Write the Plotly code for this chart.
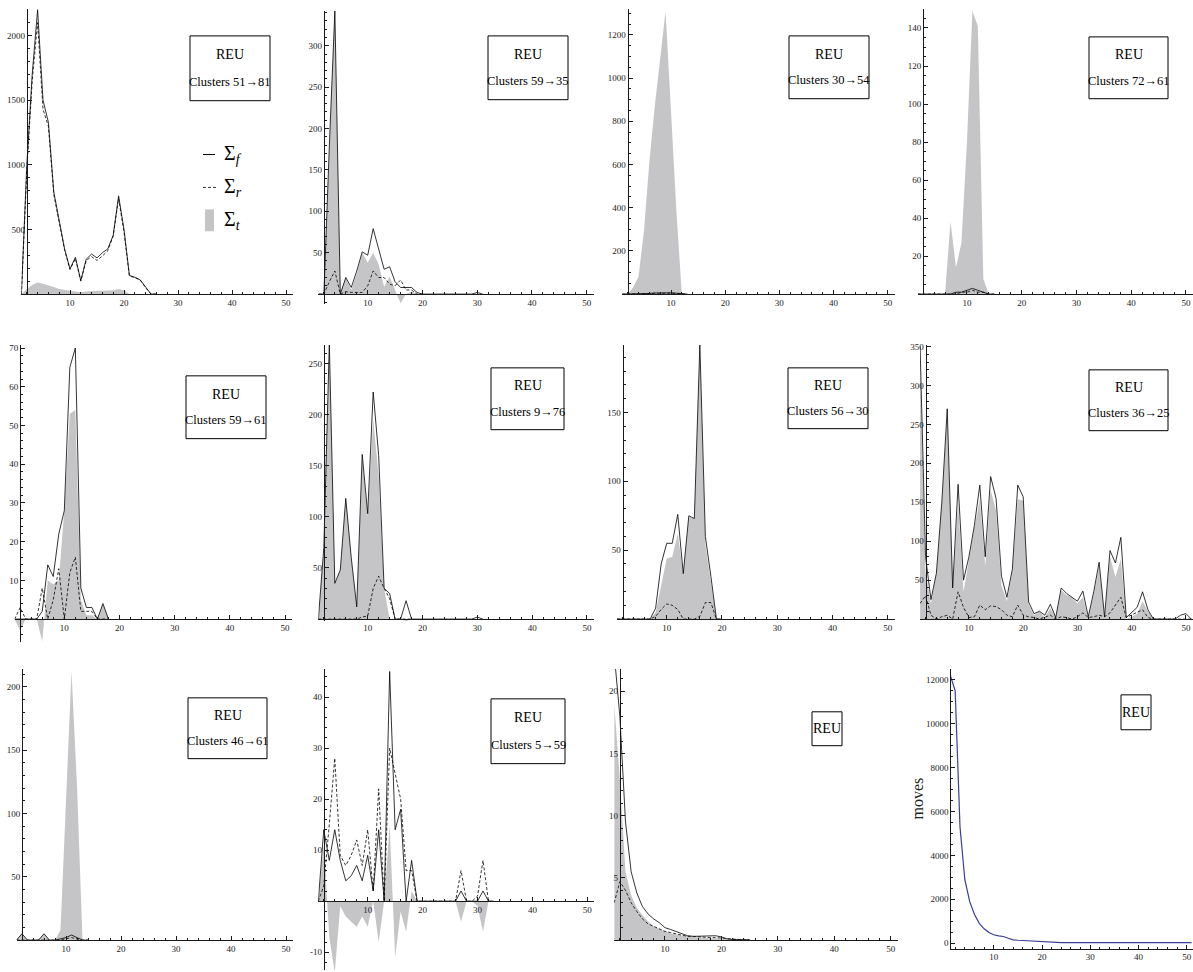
import plotly.graph_objects as go

W, H = 1193, 972

# ---------------- data (x = 1, 2, 3, ...) ----------------
# Panel 1: Clusters 51->81
p1_f = [0, 1000, 1700, 2200, 1500, 1330, 790, 555, 350, 195, 285, 105, 270, 310, 280, 320, 350, 455, 760, 500, 145, 130, 110, 55, 0, 0]
p1_r = [0, 950, 1650, 2100, 1430, 1300, 770, 540, 340, 190, 275, 100, 260, 290, 260, 295, 335, 450, 740, 480, 140, 128, 108, 50, 0, 0]
p1_t = [0, 40, 70, 90, 80, 70, 55, 40, 30, 25, 20, 15, 20, 25, 25, 25, 25, 30, 40, 30, 0, 0, 0, 0, 0, 0]
# Panel 2: Clusters 59->35
p2_f = [0, 0, 180, 342, 0, 20, 8, 28, 51, 47, 79, 55, 30, 33, 15, 8, 8, 8, 2, 0, 0, 0, 0, 0, 0, 0, 0, 0, 0, 2, 0]
p2_r = [0, 0, 15, 28, 0, 3, 2, 2, 2, 10, 28, 20, 20, 12, 10, 17, 5, 5, 0, 0]
p2_t = [0, 0, 180, 342, 0, 20, 5, 25, 50, 38, 50, 36, 9, 21, 5, -11, 0, 3, 0, 0]
# Panel 3: Clusters 30->54
p3_f = [0, 0, 0, 1, 2, 3, 5, 6, 8, 6, 4, 1, 0]
p3_r = [0, 0, 0, 1, 1, 2, 4, 5, 6, 4, 3, 1, 0]
p3_t = [0, 0, 30, 80, 290, 610, 870, 1090, 1310, 846, 382, 0, 0]
# Panel 4: Clusters 72->61
p4_f = [0, 0, 0, 0, 0, 0, 0, 1, 1, 2, 3, 2, 1, 0, 0]
p4_r = [0, 0, 0, 0, 0, 0, 0, 0, 1, 1, 2, 1, 1, 0, 0]
p4_t = [0, 0, 0, 0, 0, 0, 38, 14, 27, 80, 149, 141, 8, 0, 0]
# Panel 5: Clusters 59->61
p5_f = [0, 0, 0, 0, 0, 2, 14, 11, 22, 28, 65, 70, 8, 3, 3, 0, 4, 0]
p5_r = [0, 3, 0, 0, 0, 8, 0, 5, 13, 0, 12, 16, 2, 2, 2, 0, 0, 0]
p5_t = [0, -3, 0, 0, 0, -5.8, 10, 9, 10, 28, 53, 54, 5, 1, 1, 0, 4, 0]
# Panel 6: Clusters 9->76
p6_f = [0, 70, 270, 35, 48, 118, 60, 12, 161, 103, 222, 160, 30, 25, 0, 0, 18, 0, 0, 0, 0, 0, 0, 0, 0, 0, 0, 0, 0, 2, 0]
p6_r = [0, 0, 0, 0, 0, 0, 0, 0, 2, 3, 30, 42, 30, 20, 0, 0, 0, 0]
p6_t = [0, 70, 270, 35, 48, 118, 60, 12, 158, 100, 195, 140, 30, 0, 0, 0, -2, 0]
# Panel 7: Clusters 56->30
p7_f = [0, 0, 0, 0, 0, 0, 0, 8, 40, 55, 55, 76, 33, 75, 73, 199, 60, 31, 0, 0]
p7_r = [0, 0, 0, 0, 0, 0, 0, 2, 7, 11, 10, 7, 0, 0, 0, 2, 12, 12, 0, 0]
p7_t = [0, 0, 0, 0, 0, 0, 0, 5, 25, 44, 45, 62, 33, 74, 73, 198, 54, 25, 0, 0]
# Panel 8: Clusters 36->25
p8_f = [350, 80, 25, 59, 150, 270, 40, 173, 50, 80, 120, 172, 80, 183, 155, 55, 28, 64, 172, 157,
        22, 7, 10, 5, 19, 2, 40, 33, 28, 23, 36, 3, 35, 73, 3, 88, 72, 105, 2, 8,
        15, 35, 12, 0, 0, 0, 0, 0, 5, 7, 0]
p8_r = [20, 30, 5, 0, 3, 5, 0, 35, 15, 2, 3, 18, 12, 17, 16, 12, 5, 3, 18, 5,
        3, 2, 0, 3, 5, 0, 3, 2, 0, 3, 8, 2, 3, 5, 3, 8, 18, 28, 2, 5,
        8, 12, 2, 0, 0, 0, 0, 0, 0, 0, 0]
p8_t = [330, 60, 20, 59, 147, 265, 40, 150, 35, 78, 117, 154, 68, 166, 139, 43, 23, 61, 154, 152,
        19, 5, 10, 2, 14, 2, 37, 31, 28, 20, 28, 1, 32, 68, 0, 80, 54, 77, 0, 3,
        7, 23, 10, 0, 0, 0, 0, 0, 0, 0, 0]
# Panel 9: Clusters 46->61
p9_f = [0, 5, 0, 0, 0, 5, 0, 0, 1, 2, 4, 2, 0, 0]
p9_r = [0, 0, 0, 0, 0, 0, 0, 0, 0, 1, 2, 1, 0, 0]
p9_t = [0, 5, 0, 0, 0, 5, 0, 0, 8, 110, 212, 122, 0, 0]
# Panel 10: Clusters 5->59
p10_f = [0, 14, 8, 14, 8, 4, 5, 7, 4, 9, 2, 14, 0, 45, 14, 18, 0, 8, 0, 0, 0, 0, 0, 0, 0, 0, 2, 0, 0, 0, 2, 0, 0]
p10_r = [0, 3, 15, 28, 9, 7, 9, 12, 7, 14, 2, 22, 0, 30, 25, 20, 6, 6, 0, 0, 0, 0, 0, 0, 0, 0, 6, 0, 0, 1, 8, 0, 0]
p10_t = [0, 11, -7, -14, -1, -3, -4, -5, -3, -5, 0, -8, 0, 15, -11, -2, -6, 2, 0, 0, 0, 0, 0, 0, 0, 0, -4, 0, 0, -1, -6, 0, 0]
# Panel 11: REU (all)
p11_f = [23, 18, 9.5, 5.5, 3.8, 2.7, 2.1, 1.7, 1.4, 1.0, 0.85, 0.7, 0.5, 0.35, 0.3, 0.3, 0.3, 0.3, 0.35, 0.25, 0.1, 0.05, 0.05, 0.03, 0.03]
p11_r = [3, 4.7, 4.0, 3.0, 2.3, 1.7, 1.3, 1.1, 0.9, 0.7, 0.6, 0.5, 0.4, 0.3, 0.3, 0.25, 0.2, 0.2, 0.2, 0.15, 0.1, 0.05, 0.05, 0.02, 0.02]
p11_t = [19, 13, 5.5, 3.6, 2.6, 2.0, 1.5, 1.1, 0.9, 0.7, 0.55, 0.45, 0.35, 0.3, 0.25, 0.2, 0.2, 0.15, 0.15, 0.1, 0.05, 0, 0, 0, 0]
# Panel 12: moves
p12_moves = [12200, 11500, 5300, 2900, 1900, 1300, 900, 650, 480, 380, 330, 300, 220, 150, 130, 115, 100, 90, 80, 70,
             40, 25, 20, 20, 20, 20, 20, 20, 20, 20, 20, 20, 20, 20, 20, 20, 20, 25, 25, 20,
             20, 20, 20, 20, 20, 20, 20, 20, 20, 20, 20]

titles = ["Clusters 51\u219281", "Clusters 59\u219235", "Clusters 30\u219254", "Clusters 72\u219261",
          "Clusters 59\u219261", "Clusters 9\u219276", "Clusters 56\u219230", "Clusters 36\u219225",
          "Clusters 46\u219261", "Clusters 5\u219259", None, None]
series = [(p1_f, p1_r, p1_t), (p2_f, p2_r, p2_t), (p3_f, p3_r, p3_t), (p4_f, p4_r, p4_t),
          (p5_f, p5_r, p5_t), (p6_f, p6_r, p6_t), (p7_f, p7_r, p7_t), (p8_f, p8_r, p8_t),
          (p9_f, p9_r, p9_t), (p10_f, p10_r, p10_t), (p11_f, p11_r, p11_t), None]
x_ticks = [10, 20, 30, 40, 50]

# ---------------- layout geometry (pixels) ----------------
geo = [
    dict(x10=70, x50=286, y0=292, ytop=6, ymax=2206, ymin=0, yt=[500, 1000, 1500, 2000], ym=100, box=(190, 33, 270, 98)),
    dict(x10=367.7, x50=586.7, y0=292, ytop=8, ymax=342, ymin=-12, yt=[50, 100, 150, 200, 250, 300], ym=10, box=(488, 33, 568, 97)),
    dict(x10=671, x50=887.7, y0=292, ytop=6, ymax=1320, ymin=0, yt=[200, 400, 600, 800, 1000, 1200], ym=50, box=(789, 33, 869, 96)),
    dict(x10=967, x50=1186.3, y0=292, ytop=6, ymax=150, ymin=0, yt=[20, 40, 60, 80, 100, 120, 140], ym=5, box=(1089, 34, 1168, 96)),
    dict(x10=64.3, x50=285, y0=618, ytop=343, ymax=70.8, ymin=-5.8, yt=[10, 20, 30, 40, 50, 60, 70], ym=2, box=(186, 374, 266, 437)),
    dict(x10=367.7, x50=587, y0=618, ytop=343, ymax=268, ymin=-2, yt=[50, 100, 150, 200, 250], ym=10, box=(491, 366, 564, 428)),
    dict(x10=666.7, x50=887.7, y0=618, ytop=343, ymax=199, ymin=0, yt=[50, 100, 150], ym=10, box=(788, 366, 868, 427)),
    dict(x10=969, x50=1186.3, y0=618, ytop=343, ymax=352, ymin=0, yt=[50, 100, 150, 200, 250, 300, 350], ym=10, box=(1089, 368, 1168, 429)),
    dict(x10=66, x50=286, y0=940, ytop=668, ymax=214, ymin=0, yt=[50, 100, 150, 200], ym=10, box=(188, 697, 267, 758)),
    dict(x10=367.7, x50=587.3, y0=901, ytop=668, ymax=45.5, ymin=-13.5, yt=[-10, 10, 20, 30, 40], ym=2, box=(491, 698, 565, 763)),
    dict(x10=665, x50=890.7, y0=940, ytop=668, ymax=21.8, ymin=0, yt=[5, 10, 15, 20], ym=1, box=(812, 711, 842, 745)),
    dict(x10=994, x50=1188, y0=943, ytop=668, ymax=12500, ymin=-250, yt=[0, 2000, 4000, 6000, 8000, 10000, 12000], ym=500, box=(1121, 694, 1151, 729)),
]

FONT = "Liberation Serif"
AXC = "#1a1a1a"
GRAY = "#c5c5c8"
XMIN, XMAX = 1, 51.3

fig = go.Figure()
lay = {}
shapes = []
annos = []

for i, g in enumerate(geo):
    n = i + 1
    sfx = "" if n == 1 else str(n)
    ppu = (g["x50"] - g["x10"]) / 40.0

    def px(v):
        return g["x10"] + (v - 10) * ppu

    xdom = [max(0, px(XMIN) / W), min(1, px(XMAX) / W)]
    ysc = (g["y0"] - g["ytop"]) / g["ymax"]
    ybot = g["y0"] - g["ymin"] * ysc
    ydom = [1 - ybot / H, 1 - g["ytop"] / H]
    yaxis_x = (px(2) if n < 12 else px(XMIN)) / W
    xaxis_y = (1 - g["y0"] / H) if n < 12 else ydom[0]

    lay["xaxis" + sfx] = dict(
        domain=xdom, range=[XMIN, XMAX], anchor="free", position=xaxis_y,
        showline=True, linecolor=AXC, linewidth=1, showgrid=False, zeroline=False,
        tickmode="array", tickvals=x_ticks, ticktext=[str(v) for v in x_ticks],
        ticks="inside", ticklen=4, tickwidth=1, tickcolor=AXC,
        minor=dict(ticks="inside", ticklen=2, tickwidth=1, tickcolor=AXC, tickmode="linear", tick0=0, dtick=2, showgrid=False),
        tickfont=dict(family=FONT, size=9, color="#222"), fixedrange=True,
    )
    lay["yaxis" + sfx] = dict(
        domain=ydom, range=[g["ymin"], g["ymax"]], anchor="free", position=yaxis_x,
        showline=True, linecolor=AXC, linewidth=1, showgrid=False, zeroline=False,
        tickmode="array", tickvals=g["yt"], ticktext=[str(v) for v in g["yt"]],
        ticks="inside", ticklen=4, tickwidth=1, tickcolor=AXC,
        minor=dict(ticks="inside", ticklen=2, tickwidth=1, tickcolor=AXC, tickmode="linear", tick0=0, dtick=g["ym"], showgrid=False),
        tickfont=dict(family=FONT, size=9, color="#222"), fixedrange=True,
    )
    xr, yr = "x" + sfx, "y" + sfx

    if series[i] is not None:
        f, r, t = series[i]
        fig.add_trace(go.Scatter(x=list(range(1, len(t) + 1)), y=t, mode="lines", fill="tozeroy",
                                 fillcolor=GRAY, line=dict(width=0, color=GRAY), xaxis=xr, yaxis=yr,
                                 showlegend=False, hoverinfo="skip"))
        fig.add_trace(go.Scatter(x=list(range(1, len(f) + 1)), y=f, mode="lines",
                                 line=dict(width=0.8, color="black"), xaxis=xr, yaxis=yr,
                                 showlegend=False, hoverinfo="skip"))
        fig.add_trace(go.Scatter(x=list(range(1, len(r) + 1)), y=r, mode="lines",
                                 line=dict(width=0.8, color="black", dash="3px,2px"), xaxis=xr, yaxis=yr,
                                 showlegend=False, hoverinfo="skip"))
    else:
        fig.add_trace(go.Scatter(x=list(range(1, len(p12_moves) + 1)), y=p12_moves, mode="lines",
                                 line=dict(width=1.2, color="#3c3c9c"), xaxis=xr, yaxis=yr,
                                 showlegend=False, hoverinfo="skip"))

    # label box
    bx0, by0, bx1, by1 = g["box"]
    shapes.append(dict(type="rect", xref="paper", yref="paper", x0=bx0 / W, x1=bx1 / W,
                       y0=1 - by1 / H, y1=1 - by0 / H, line=dict(color="black", width=1),
                       fillcolor="white", layer="above"))
    cx = (bx0 + bx1) / 2 / W
    if titles[i]:
        annos.append(dict(x=cx, y=1 - (by0 + 0.29 * (by1 - by0)) / H, xref="paper", yref="paper",
                          xanchor="center", yanchor="middle",
                          text="REU", showarrow=False, font=dict(family=FONT, size=14, color="black")))
        annos.append(dict(x=cx, y=1 - (by0 + 0.71 * (by1 - by0)) / H, xref="paper", yref="paper",
                          xanchor="center", yanchor="middle",
                          text=titles[i], showarrow=False, font=dict(family=FONT, size=12.5, color="black")))
    else:
        annos.append(dict(x=cx, y=1 - (by0 + by1) / 2 / H, xref="paper", yref="paper",
                          xanchor="center", yanchor="middle",
                          text="REU", showarrow=False, font=dict(family=FONT, size=14, color="black")))

# legend in panel 1
shapes.append(dict(type="line", xref="paper", yref="paper", x0=203 / W, x1=215 / W, y0=1 - 152 / H, y1=1 - 152 / H,
                   line=dict(color="black", width=1)))
shapes.append(dict(type="line", xref="paper", yref="paper", x0=203 / W, x1=216 / W, y0=1 - 185 / H, y1=1 - 185 / H,
                   line=dict(color="black", width=0.8, dash="3px,2px")))
shapes.append(dict(type="rect", xref="paper", yref="paper", x0=205 / W, x1=214 / W, y0=1 - 229 / H, y1=1 - 207 / H,
                   line=dict(width=0), fillcolor=GRAY))
for txt, yy in [("\u03a3<sub><i>f</i></sub>", 152), ("\u03a3<sub><i>r</i></sub>", 185), ("\u03a3<sub><i>t</i></sub>", 218)]:
    annos.append(dict(x=222 / W, y=1 - yy / H, xref="paper", yref="paper", xanchor="left", yanchor="middle",
                      text=txt, showarrow=False, font=dict(family=FONT, size=20, color="black")))

# y title of panel 12
annos.append(dict(x=918 / W, y=1 - 798 / H, xref="paper", yref="paper", xanchor="center", yanchor="middle",
                  text="moves", textangle=-90, showarrow=False, font=dict(family=FONT, size=16, color="#222")))

fig.update_layout(width=W, height=H, margin=dict(l=0, r=0, t=0, b=0),
                  paper_bgcolor="white", plot_bgcolor="white", showlegend=False,
                  shapes=shapes, annotations=annos, **lay)

fig.write_html("out.html", config={"displayModeBar": False},
               post_script="document.body.style.margin='0';document.body.style.overflow='hidden';")
